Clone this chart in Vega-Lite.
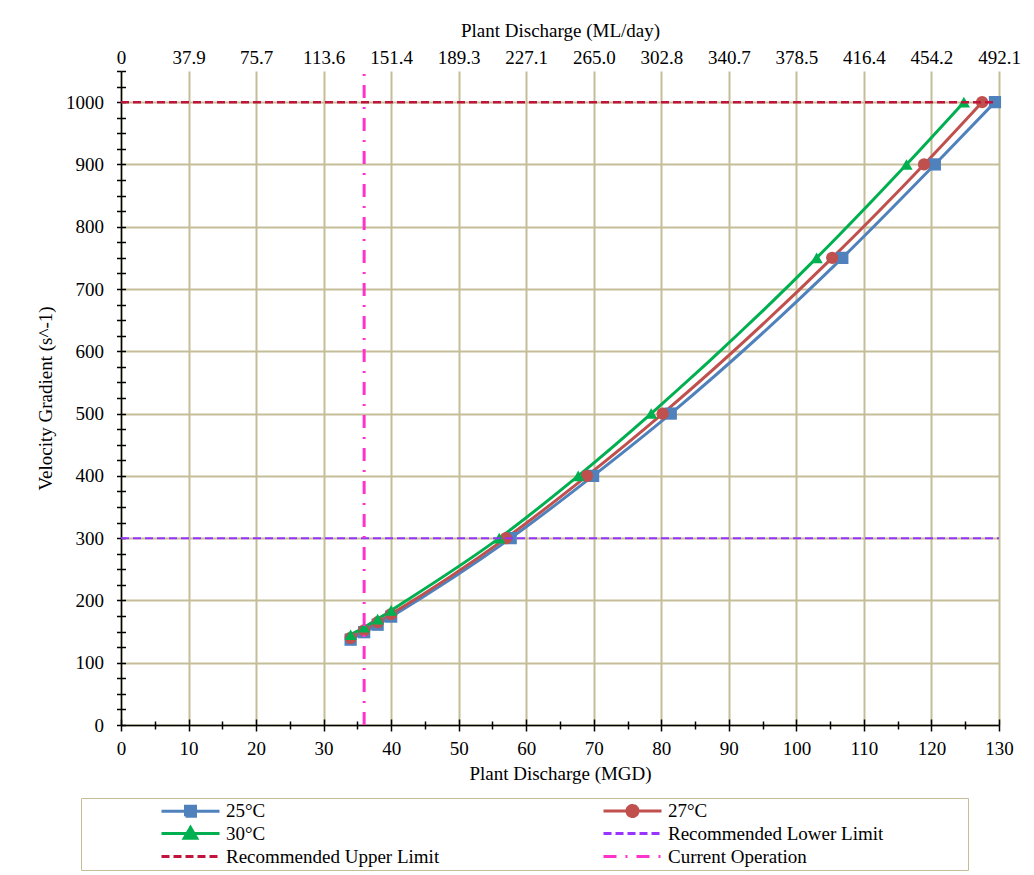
{
  "$schema": "https://vega.github.io/schema/vega-lite/v6.json",
  "width": 878,
  "height": 654,
  "autosize": {"type": "none"},
  "padding": {"left": 121, "top": 71, "right": 35, "bottom": 150},
  "background": "white",
  "config": {"view": {"stroke": null}, "font": "Liberation Serif"},
  "datasets": {
    "temps": [
      {"series": "25°C", "q": 34, "g": 137},
      {"series": "25°C", "q": 36, "g": 149},
      {"series": "25°C", "q": 38, "g": 161},
      {"series": "25°C", "q": 40, "g": 174},
      {"series": "25°C", "q": 57.7, "g": 300},
      {"series": "25°C", "q": 69.9, "g": 400},
      {"series": "25°C", "q": 81.4, "g": 500},
      {"series": "25°C", "q": 106.8, "g": 750},
      {"series": "25°C", "q": 120.5, "g": 900},
      {"series": "25°C", "q": 129.4, "g": 1000},
      {"series": "27°C", "q": 34, "g": 140},
      {"series": "27°C", "q": 36, "g": 152},
      {"series": "27°C", "q": 38, "g": 165},
      {"series": "27°C", "q": 40, "g": 178},
      {"series": "27°C", "q": 57.0, "g": 300},
      {"series": "27°C", "q": 69.0, "g": 400},
      {"series": "27°C", "q": 80.2, "g": 500},
      {"series": "27°C", "q": 105.3, "g": 750},
      {"series": "27°C", "q": 118.9, "g": 900},
      {"series": "27°C", "q": 127.5, "g": 1000},
      {"series": "30°C", "q": 34, "g": 145},
      {"series": "30°C", "q": 36, "g": 157},
      {"series": "30°C", "q": 38, "g": 170},
      {"series": "30°C", "q": 40, "g": 184},
      {"series": "30°C", "q": 56.0, "g": 300},
      {"series": "30°C", "q": 67.7, "g": 400},
      {"series": "30°C", "q": 78.5, "g": 500},
      {"series": "30°C", "q": 103.0, "g": 750},
      {"series": "30°C", "q": 116.3, "g": 900},
      {"series": "30°C", "q": 124.8, "g": 1000}
    ],
    "refs": [
      {"series": "Recommended Lower Limit", "q": 0, "g": 300},
      {"series": "Recommended Lower Limit", "q": 130, "g": 300},
      {"series": "Recommended Upper Limit", "q": 0, "g": 1000},
      {"series": "Recommended Upper Limit", "q": 129.4, "g": 1000},
      {"series": "Current Operation", "q": 36, "g": 0},
      {"series": "Current Operation", "q": 36, "g": 1050}
    ]
  },
  "layer": [
    {
      "data": {"name": "temps"},
      "mark": {"type": "line", "strokeWidth": 3, "interpolate": "monotone"},
      "encoding": {
        "x": {
          "field": "q",
          "type": "quantitative",
          "scale": {"domain": [0, 130], "nice": false},
          "axis": {
            "orient": "bottom",
            "title": "Plant Discharge (MGD)",
            "values": [0, 5, 10, 15, 20, 25, 30, 35, 40, 45, 50, 55, 60, 65, 70, 75, 80, 85, 90, 95, 100, 105, 110, 115, 120, 125, 130],
            "labelExpr": "datum.value % 10 === 0 ? datum.label : ''",
            "grid": true,
            "gridColor": "#C4BD97",
            "gridWidth": 2,
            "gridOpacity": {"condition": {"test": "datum.value % 10 === 0", "value": 1}, "value": 0},
            "domainColor": "black",
            "domainWidth": 1.5,
            "tickColor": "black",
            "tickWidth": 1.5,
            "tickSize": {"condition": {"test": "datum.value % 10 === 0", "value": 6}, "value": 4},
            "labelPadding": 8,
            "labelFont": "Liberation Serif",
            "labelFontSize": 19,
            "labelColor": "black",
            "labelOverlap": false,
            "labelFlush": false,
            "titleFont": "Liberation Serif",
            "titleFontSize": 19,
            "titleFontWeight": "normal",
            "titleColor": "black",
            "titlePadding": 6
          }
        },
        "y": {
          "field": "g",
          "type": "quantitative",
          "scale": {"domain": [0, 1050], "nice": false},
          "axis": {
            "orient": "left",
            "title": "Velocity Gradient (s^-1)",
            "values": [0, 25, 50, 75, 100, 125, 150, 175, 200, 225, 250, 275, 300, 325, 350, 375, 400, 425, 450, 475, 500, 525, 550, 575, 600, 625, 650, 675, 700, 725, 750, 775, 800, 825, 850, 875, 900, 925, 950, 975, 1000, 1025, 1050],
            "labelExpr": "datum.value % 100 === 0 ? datum.label : ''",
            "format": "d",
            "grid": true,
            "gridColor": "#C4BD97",
            "gridWidth": 2,
            "gridOpacity": {"condition": {"test": "datum.value % 100 === 0 && datum.value <= 1000", "value": 1}, "value": 0},
            "domainColor": "black",
            "domainWidth": 1.5,
            "tickColor": "black",
            "tickWidth": 1.5,
            "tickSize": 4.5,
            "labelPadding": 13,
            "labelFont": "Liberation Serif",
            "labelFontSize": 19,
            "labelColor": "black",
            "labelOverlap": false,
            "labelFlush": false,
            "titleFont": "Liberation Serif",
            "titleFontSize": 19,
            "titleFontWeight": "normal",
            "titleColor": "black",
            "titlePadding": 10
          }
        },
        "color": {
          "field": "series",
          "type": "nominal",
          "scale": {
            "domain": ["25°C", "27°C", "30°C", "Recommended Lower Limit", "Recommended Upper Limit", "Current Operation"],
            "range": ["#4F81BD", "#C0504D", "#00B050", "#9933FF", "#C0143C", "#FF33CC"]
          },
          "legend": {
            "orient": "none",
            "legendX": -40,
            "legendY": 727,
            "direction": "horizontal",
            "title": "\u00a0",
            "titleOrient": "right",
            "titlePadding": 82,
            "titleFontSize": 19,
            "columns": 2,
            "gridAlign": "all",
            "columnPadding": 84,
            "rowPadding": -2,
            "padding": 3,
            "strokeColor": "#C4BD97",
            "fillColor": "white",
            "symbolOffset": 74,
            "symbolSize": 144,
            "symbolStrokeWidth": 3,
            "labelOffset": 49,
            "labelFont": "Liberation Serif",
            "labelFontSize": 19,
            "labelColor": "black",
            "labelLimit": 400,
            "encode": {
              "symbols": {
                "update": {
                  "shape": {"signal": "datum.value === '25°C' ? 'M-1,0H8.67M3,-0.83H4.67V0.83H3Z' : datum.value === '27°C' ? 'M-1,0H8.67M4.75,0A0.92,0.92 0 1,1 2.91,0A0.92,0.92 0 1,1 4.75,0Z' : datum.value === '30°C' ? 'M-1,0H8.67M3.83,-1L4.88,0.8L2.78,0.8Z' : 'M-1,0H8.67'"},
                  "strokeDash": {"signal": "datum.value === 'Current Operation' ? [13, 9, 2, 9] : (datum.value === 'Recommended Lower Limit' || datum.value === 'Recommended Upper Limit') ? [8, 4] : [1, 0]"},
                  "fill": {"signal": "scale('color', datum.value)"},
                  "stroke": {"signal": "scale('color', datum.value)"},
                  "strokeWidth": {"value": 3},
                  "opacity": {"value": 1}
                }
              }
            }
          }
        }
      }
    },
    {
      "data": {"name": "temps"},
      "mark": {"type": "point", "filled": true, "opacity": 1, "size": 150},
      "encoding": {
        "x": {
          "field": "q",
          "type": "quantitative",
          "axis": {
            "orient": "top",
            "title": "Plant Discharge (ML/day)",
            "values": [0, 10, 20, 30, 40, 50, 60, 70, 80, 90, 100, 110, 120, 130],
            "labelExpr": "datum.value === 0 ? '0' : format(datum.value * 3.78541, '.1f')",
            "grid": false,
            "domain": false,
            "ticks": false,
            "labelPadding": 4,
            "labelFont": "Liberation Serif",
            "labelFontSize": 19,
            "labelColor": "black",
            "labelOverlap": false,
            "labelFlush": false,
            "titleFont": "Liberation Serif",
            "titleFontSize": 19,
            "titleFontWeight": "normal",
            "titleColor": "black",
            "titlePadding": 8
          }
        },
        "y": {"field": "g", "type": "quantitative", "axis": null},
        "color": {"field": "series", "type": "nominal"},
        "shape": {
          "field": "series",
          "type": "nominal",
          "scale": {"domain": ["25°C", "27°C", "30°C"], "range": ["square", "circle", "triangle-up"]},
          "legend": null
        }
      }
    },
    {
      "data": {"name": "refs"},
      "mark": {"type": "line"},
      "encoding": {
        "x": {
          "field": "q",
          "type": "quantitative",
          "axis": {
            "orient": "bottom",
            "title": null,
            "values": [0, 5, 10, 15, 20, 25, 30, 35, 40, 45, 50, 55, 60, 65, 70, 75, 80, 85, 90, 95, 100, 105, 110, 115, 120, 125, 130],
            "labels": false,
            "domain": false,
            "grid": false,
            "tickColor": "black",
            "tickWidth": 1.5,
            "tickSize": {"condition": {"test": "datum.value % 10 === 0", "value": -6}, "value": -4}
          }
        },
        "y": {
          "field": "g",
          "type": "quantitative",
          "axis": {
            "orient": "left",
            "title": null,
            "values": [0, 25, 50, 75, 100, 125, 150, 175, 200, 225, 250, 275, 300, 325, 350, 375, 400, 425, 450, 475, 500, 525, 550, 575, 600, 625, 650, 675, 700, 725, 750, 775, 800, 825, 850, 875, 900, 925, 950, 975, 1000, 1025, 1050],
            "labels": false,
            "domain": false,
            "grid": false,
            "tickColor": "black",
            "tickWidth": 1.5,
            "tickSize": -4.5
          }
        },
        "color": {"field": "series", "type": "nominal"},
        "strokeDash": {
          "field": "series",
          "type": "nominal",
          "scale": {
            "domain": ["Recommended Lower Limit", "Recommended Upper Limit", "Current Operation"],
            "range": [[8, 4], [8, 4], [13, 9, 2, 9]]
          },
          "legend": null
        },
        "strokeWidth": {
          "field": "series",
          "type": "nominal",
          "scale": {
            "domain": ["Recommended Lower Limit", "Recommended Upper Limit", "Current Operation"],
            "range": [2, 3, 3]
          },
          "legend": null
        }
      }
    }
  ],
  "resolve": {"axis": {"x": "independent", "y": "independent"}}
}
